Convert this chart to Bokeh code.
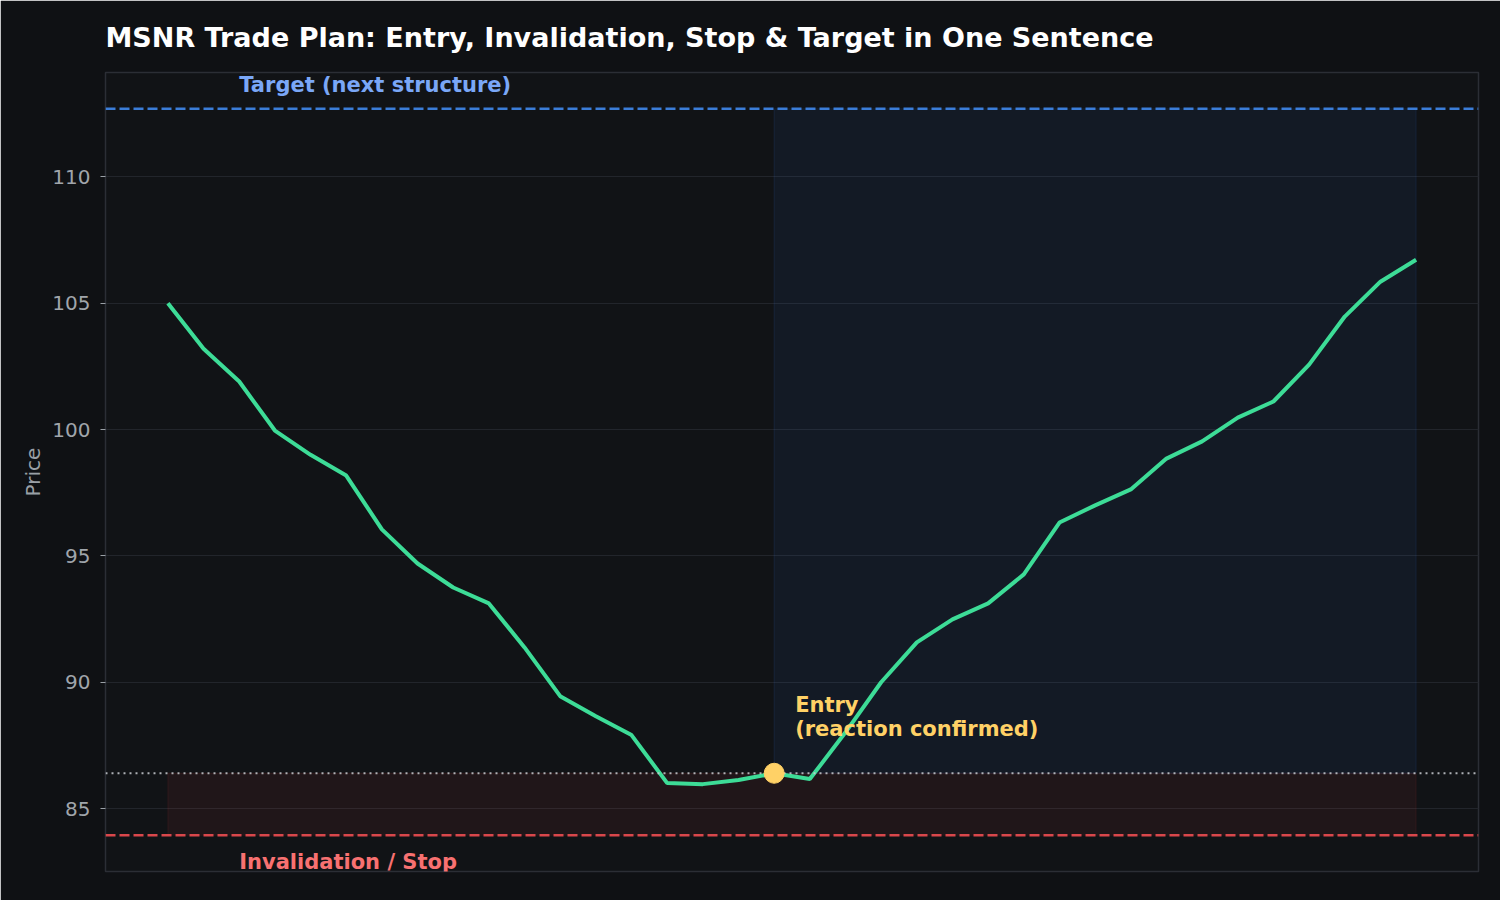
from bokeh.plotting import figure
from bokeh.models import ColumnDataSource, Span, Label
from bokeh.embed import file_html
from bokeh.resources import INLINE

# Data
idx = list(range(36))
price = [105.0, 103.2, 101.9, 99.96, 99.0, 98.18, 96.05, 94.7, 93.75, 93.12,
         91.38, 89.45, 88.66, 87.91, 86.01, 85.97, 86.13, 86.4, 86.17, 88.02,
         90.0, 91.58, 92.49, 93.12, 94.27, 96.32, 97.0, 97.63, 98.85, 99.53,
         100.47, 101.11, 102.57, 104.47, 105.85, 106.72]
entry_idx = 17
entry_price = 86.4
stop_price = 83.95
target_price = 112.69
y_ticks = [85, 90, 95, 100, 105, 110]

FONT = "DejaVu Sans"
BG = "#0f1114"
PLOT_BG = "#111316"

x0, x1 = idx[0], idx[-1]
xpad = (x1 - x0) * 0.05
ylo, yhi = stop_price, target_price
ypad = (yhi - ylo) * 0.05

p = figure(
    width=1500, height=900,
    x_range=(x0 - xpad, x1 + xpad), y_range=(ylo - ypad, yhi + ypad),
    title="MSNR Trade Plan: Entry, Invalidation, Stop & Target in One Sentence",
    toolbar_location=None, output_backend="svg",
    min_border_left=105, min_border_right=22, min_border_top=72, min_border_bottom=29,
)
p.background_fill_color = PLOT_BG
p.border_fill_color = BG
p.outline_line_color = "#2b2e35"
p.outline_line_width = 1.5

p.title.text_color = "#ffffff"
p.title.text_font = FONT
p.title.text_font_size = "27px"
p.title.text_font_style = "bold"
p.title.align = "left"
p.title.standoff = 39

p.xaxis.visible = False
p.xgrid.grid_line_color = None
p.ygrid.grid_line_color = "#22252b"
p.ygrid.grid_line_width = 1

p.yaxis.ticker = y_ticks
p.yaxis.axis_line_color = None
p.yaxis.major_tick_line_color = "#9aa0a6"
p.yaxis.major_tick_out = 5
p.yaxis.major_tick_in = 0
p.yaxis.minor_tick_line_color = None
p.yaxis.major_label_text_color = "#a0a5ab"
p.yaxis.major_label_text_font = FONT
p.yaxis.major_label_text_font_size = "20px"
p.yaxis.major_label_standoff = 10
p.yaxis.axis_label = "Price"
p.yaxis.axis_label_text_color = "#9aa0a6"
p.yaxis.axis_label_text_font = FONT
p.yaxis.axis_label_text_font_size = "20px"
p.yaxis.axis_label_text_font_style = "normal"
p.yaxis.axis_label_standoff = 4

# shaded zones
p.quad(left=[idx[entry_idx]], right=[idx[-1]], bottom=[entry_price], top=[target_price],
       fill_color="#3b82f6", fill_alpha=0.07, line_color="#3b82f6", line_alpha=0.12, line_width=1)
p.quad(left=[idx[0]], right=[idx[-1]], bottom=[stop_price], top=[entry_price],
       fill_color="#ef4444", fill_alpha=0.07, line_color="#ef4444", line_alpha=0.1, line_width=1)

# level lines
p.add_layout(Span(location=target_price, dimension="width", line_color="#3b7dd8",
                  line_width=2.5, line_dash="10 4"))
p.add_layout(Span(location=stop_price, dimension="width", line_color="#d9474b",
                  line_width=2.5, line_dash="10 4"))
p.add_layout(Span(location=entry_price, dimension="width", line_color="#c9ccd1",
                  line_alpha=0.85, line_width=2, line_dash="2 4"))

src = ColumnDataSource(dict(x=idx, y=price))
p.line("x", "y", source=src, line_color="#3ddc97", line_width=4)
p.scatter([idx[entry_idx]], [entry_price], size=20, fill_color="#ffd166",
          line_color="#ffd166", level="overlay")

p.add_layout(Label(x=2, y=target_price, y_offset=12, text="Target (next structure)",
                   text_color="#7aa7f7", text_font=FONT, text_font_size="21px",
                   text_font_style="bold", text_baseline="bottom"))
p.add_layout(Label(x=2, y=stop_price, y_offset=-15, text="Invalidation / Stop",
                   text_color="#f87171", text_font=FONT, text_font_size="21px",
                   text_font_style="bold", text_baseline="top"))
p.add_layout(Label(x=idx[entry_idx], y=entry_price, x_offset=21, y_offset=32,
                   text="Entry\n(reaction confirmed)", text_color="#ffd166",
                   text_font=FONT, text_font_size="21px", text_font_style="bold",
                   text_baseline="bottom", text_line_height=1.0))

open("out.html", "w").write(file_html(p, INLINE))
